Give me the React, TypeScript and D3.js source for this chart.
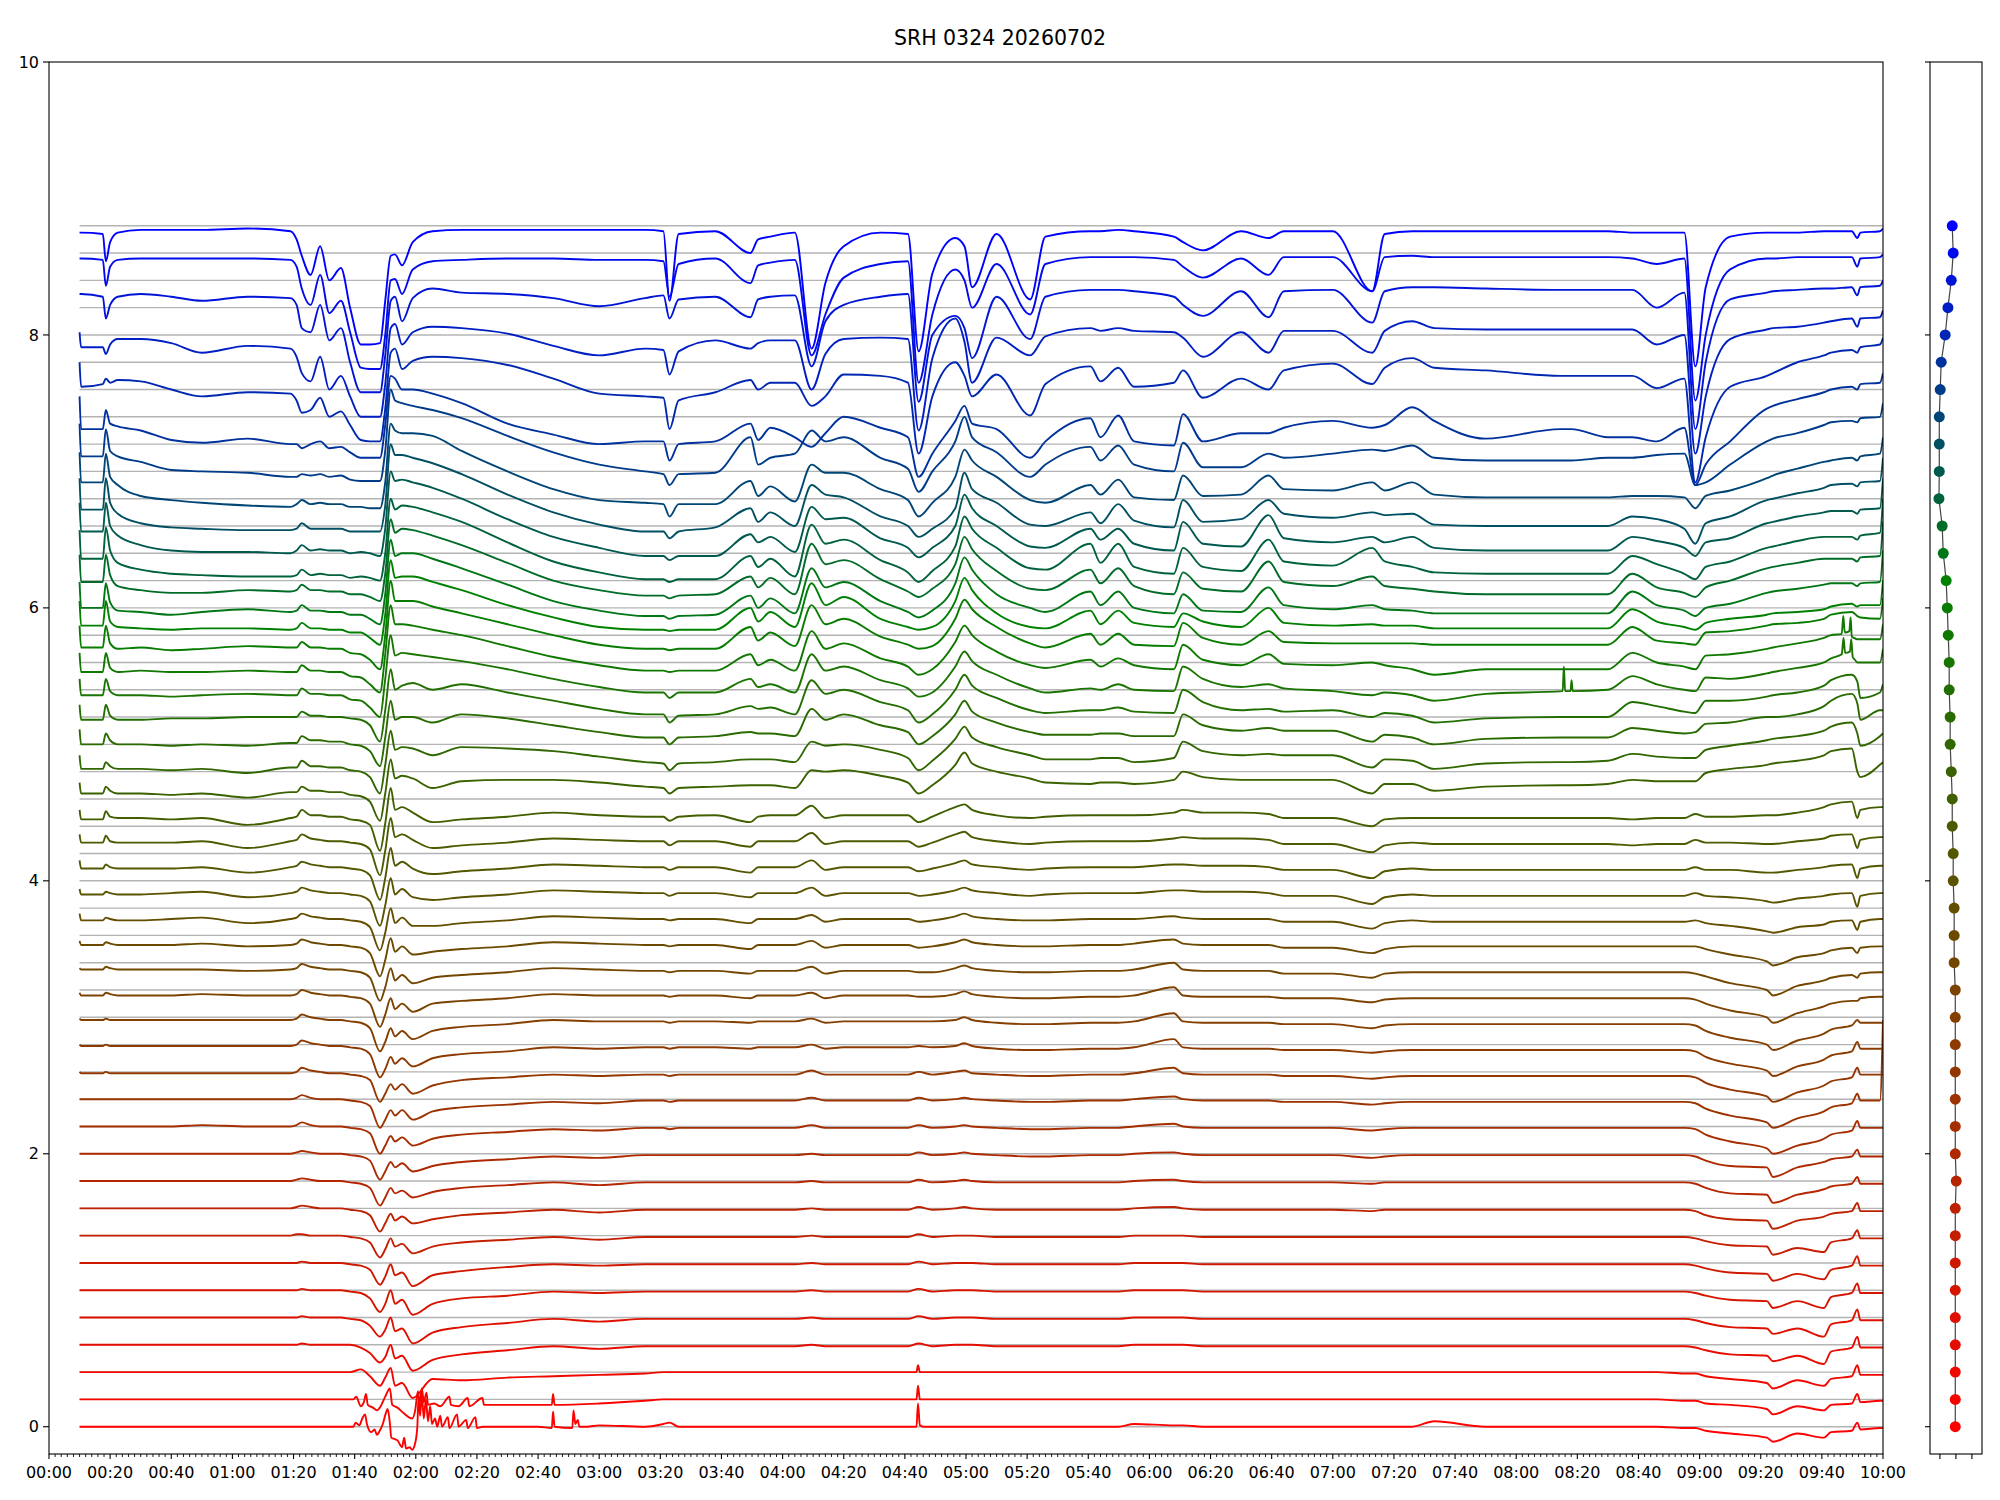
import * as d3 from 'd3'
import React from 'react'

// SRH 0324, 45 channels stacked 0.2 apart
const title = 'SRH 0324 20260702'
const spacing = 0.2

// minutes after 00:00
const times = [10, 10.5, 17.6, 18.6, 20, 22.5, 30, 40, 50, 65,
  79, 81, 82.7, 85.6, 88.7, 91.7, 95.5, 98.5, 102, 105,
  108.3, 110, 111.8, 113.2, 115.5, 119, 125.5, 135, 150, 165,
  180, 195, 201, 203, 206, 218, 229.5, 232, 236, 244,
  249.5, 254, 260, 272, 281, 284.5, 289, 296.5, 299.5, 302,
  310, 321, 326, 340.7, 344, 349.8, 355, 368, 371, 377.5,
  390, 399, 404, 420, 432.9, 437, 446, 453.2, 470, 494.5,
  496.5, 498, 510, 518, 526, 535, 538.6, 542, 550, 562,
  564, 572, 580.7, 583, 589.8, 591.6, 592.6, 599, 600]

// offset of each channel from its own baseline, in hundredths (channel 0 first)
const offsets = [
  [0,0,0,0,0,0,0,0,0,0, 0,0,0,0,0,0,0,0,8,3, -5,5,10,-8,-12,-18,15,3,0,1, 1,0,2,3,0,0,0,0,0,0, 0,0,0,0,0,17,0,0,0,0, 0,0,0,0,0,0,2,1,1,0, 0,0,0,0,0,0,0,4,0,0, 0,0,0,0,0,-1,-1,-3,-5,-8, -11,-5,-8,-4,-3,3,-2,-1,-1],
  [0,0,0,0,0,0,0,0,0,0, 0,0,0,0,0,0,0,0,5,0, -8,2,8,-5,-6,-13,8,-4,-4,-2, -3,-1,0,0,0,0,0,0,0,0, 0,0,0,0,0,10,0,0,0,0, 0,0,0,0,0,0,0,0,0,0, 0,0,0,0,0,0,0,0,0,0, 0,0,0,0,0,-1,-1,-3,-4,-7, -11,-5,-8,-4,-3,4,-2,-1,-1],
  [0,0,0,0,0,0,0,0,0,0, 0,0,0,0,0,0,0,0,2,-3, -10,-4,3,-10,-8,-19,-5,-6,-4,-3, -2,-1,0,0,0,0,0,0,0,0, 0,0,0,0,0,5,0,0,0,0, 0,0,0,0,0,0,0,0,0,0, 0,0,0,0,0,0,0,0,0,0, 0,0,0,0,0,-1,-1,-3,-5,-8, -12,-6,-10,-5,-3,5,-2,-2,-2],
  [0,0,0,0,0,0,0,0,0,0, 0,0,1,0,0,0,0,0,-2,-6, -13,-9,0,-10,-8,-19,-11,-7,-4,-1, -3,-1,-1,-1,-1,-1,-1,-1,-1,-1, 0,-1,-1,-1,-1,1,-1,0,0,0, -1,-1,-1,-1,-1,-1,0,0,0,-1, -1,-1,-1,-1,-1,-1,-1,-1,-1,-1, -1,-1,-1,-1,-1,-1,-2,-4,-7,-8, -12,-8,-14,-5,-2,6,-2,-2,-2],
  [0,0,0,0,0,0,0,0,0,0, 0,0,1,0,0,0,0,-1,-2,-6, -14,-9,0,-10,-8,-19,-11,-7,-4,-1, -3,-1,-1,-1,-1,-1,-1,-1,-1,-1, 0,-1,-1,-1,-1,1,-1,0,0,0, -1,-1,-1,-1,-1,-1,0,0,0,-1, -1,-1,-1,-1,-1,-1,-1,-1,-1,-1, -1,-1,-1,-1,-1,-1,-2,-4,-7,-8, -12,-8,-14,-5,-2,6,-2,-2,-2],
  [0,0,0,0,0,0,0,0,0,0, 0,0,1,0,0,0,0,-1,-2,-6, -16,-10,0,-10,-7,-18,-10,-6,-4,-1, -2,-1,-1,-1,-1,-1,-1,-1,-1,-1, 0,-1,-1,-1,-1,1,-1,0,0,0, -1,-1,-1,-1,-1,-1,0,0,0,-1, -1,-1,-1,-1,-1,-1,-1,-1,-1,-1, -1,-1,-1,-1,-1,-1,-2,-4,-7,-8, -13,-8,-13,-5,-2,5,-2,-2,-2],
  [0,0,0,0,0,0,0,0,0,0, 0,0,1,0,0,0,0,-1,-2,-5, -16,-10,-1,-9,-7,-17,-9,-6,-3,-1, -2,-1,-1,-1,-1,-1,-1,-1,-1,-1, 0,-1,-1,-1,-1,1,-1,0,0,0, -1,-1,-1,-1,-1,-1,0,0,0,-1, -1,-1,-1,-1,-1,-1,-1,-1,-1,-1, -1,-1,-1,-1,-1,-1,-2,-4,-7,-8, -13,-8,-12,-5,-2,5,-2,-2,-2],
  [0,0,0,0,0,0,0,0,0,0, 0,1,1,0,0,0,0,-1,-2,-5, -16,-10,-2,-8,-6,-13,-8,-5,-3,-1, -3,-1,-1,-1,-1,-1,-1,-1,-1,-1, 0,-1,-1,-1,-1,1,-1,0,0,0, -1,-1,-1,-1,-1,-1,0,0,0,-1, -1,-1,-1,-1,-1,-1,-1,-1,-1,-1, -1,-1,-1,-1,-1,-1,-2,-4,-7,-8, -14,-9,-12,-5,-2,4,-2,-2,-2],
  [0,0,0,0,0,0,0,0,0,0, 0,1,2,1,0,0,0,-1,-2,-5, -17,-11,-4,-9,-6,-11,-8,-5,-3,-1, -3,-1,-1,-1,-1,-1,-1,-1,-1,-1, 0,-1,-1,-1,-1,1,-1,0,1,0, -1,-1,-1,-1,-1,-1,0,1,0,-1, -1,-1,-1,-1,-2,-1,-1,-1,-1,-1, -1,-1,-1,-1,-1,-1,-2,-5,-8,-9, -15,-9,-6,-4,-2,4,-2,-2,-2],
  [0,0,0,0,0,0,0,0,0,0, 0,1,2,1,0,0,0,-1,-2,-5, -18,-12,-5,-9,-7,-12,-8,-5,-3,-1, -3,-1,-1,-1,-1,-1,-1,-1,-1,-1, 0,-1,-1,-1,-1,1,-1,0,1,0, -1,-1,-1,-1,-1,-1,0,1,0,-1, -1,-1,-1,-1,-2,-1,-1,-1,-1,-1, -1,-1,-1,-1,-1,-1,-2,-5,-9,-10, -16,-10,-6,-4,-2,3,-2,-2,-2],
  [0,0,0,0,0,0,0,0,0,0, 0,1,2,1,0,0,0,-1,-2,-5, -19,-13,-6,-10,-7,-13,-9,-6,-4,-2, -3,-1,-1,-1,-1,-1,-1,-1,-1,-1, 0,-1,-1,-1,-1,1,-1,0,1,0, -1,-2,-2,-1,-1,-1,0,1,0,-1, -1,-1,-1,-1,-3,-2,-1,-1,-1,-1, -1,-1,-1,-1,-1,-1,-2,-5,-9,-10, -17,-10,-6,-4,-2,3,-2,-2,-2],
  [0,0,0,0,0,0,0,0,1,0, 0,1,3,1,0,0,0,-1,-2,-5, -20,-14,-7,-11,-8,-14,-9,-6,-4,-2, -3,-1,-1,-2,-1,-1,-1,-1,-1,-1, 1,-1,-1,-1,-1,1,-1,0,1,0, -1,-2,-2,-1,-1,-1,0,2,0,-1, -1,-1,-1,-1,-3,-2,-1,-1,-1,-1, -1,-1,-1,-1,-1,-1,-2,-6,-11,-16, -20,-14,-9,-6,-3,4,-1,-1,-1],
  [0,0,0,0,0,0,0,0,0,0, 0,1,3,1,0,0,0,-1,-2,-5, -21,-15,-8,-12,-8,-15,-9,-6,-4,-2, -3,-1,-1,-2,-1,-1,-1,-1,-1,-1, 1,-1,-1,-1,-1,1,-1,0,1,0, -1,-2,-2,-1,-1,-1,0,2,0,-1, -1,-1,-2,-2,-4,-3,-2,-2,-2,-2, -2,-2,-2,-2,-2,-2,-3,-7,-12,-17, -21,-14,-9,-6,-3,4,-1,-1,58],
  [0,-1,-1,0,-1,-1,-1,-1,-1,-1, -1,0,3,1,0,-1,-1,-2,-3,-6, -22,-16,-9,-13,-9,-16,-10,-6,-4,-2, -3,-2,-2,-3,-2,-2,-2,-2,-2,-2, 1,-2,-2,-2,-2,0,-2,0,1,-1, -2,-3,-3,-2,-2,-2,-1,3,-1,-2, -2,-2,-3,-3,-5,-4,-3,-3,-3,-3, -3,-3,-3,-3,-3,-3,-4,-8,-13,-18, -22,-15,-10,-7,-4,3,-2,-2,-2],
  [0,-1,-1,0,-1,-1,-1,-1,-1,-1, -1,0,3,1,0,-1,-1,-2,-3,-7, -24,-18,-9,-14,-10,-16,-10,-7,-5,-2, -3,-2,-2,-3,-2,-2,-3,-2,-2,-2, 0,-3,-2,-2,-2,-1,-2,-1,1,-1, -3,-4,-4,-3,-3,-3,-2,4,-2,-3, -3,-3,-4,-4,-6,-5,-4,-4,-4,-4, -4,-4,-4,-4,-4,-4,-5,-9,-14,-19, -23,-16,-11,-8,-5,2,-3,-3,-3],
  [-1,-2,-2,-1,-2,-2,-2,-2,-2,-2, -2,-1,2,0,-1,-2,-2,-3,-4,-8, -25,-18,-8,-14,-10,-16,-10,-7,-5,-2, -3,-3,-3,-4,-3,-3,-4,-3,-3,-3, -1,-4,-3,-3,-3,-3,-3,-2,0,-2, -4,-5,-5,-4,-4,-4,-3,3,-3,-4, -4,-4,-5,-5,-8,-6,-5,-5,-5,-5, -5,-5,-5,-5,-5,-5,-6,-10,-15,-20, -24,-17,-12,-9,-6,-2,-4,-4,-4],
  [-2,-4,-4,-2,-3,-4,-4,-4,-3,-4, -4,-3,0,-2,-3,-4,-4,-5,-6,-10, -27,-18,-6,-14,-10,-16,-10,-8,-6,-3, -4,-4,-4,-5,-4,-4,-6,-4,-4,-4, -2,-6,-4,-4,-4,-5,-5,-3,-1,-3, -5,-6,-6,-5,-5,-5,-4,2,-4,-5, -5,-5,-6,-6,-9,-7,-6,-6,-6,-6, -6,-6,-6,-6,-6,-6,-7,-10,-15,-20, -24,-17,-12,-10,-8,-8,-6,-5,-5],
  [-4,-5,-5,-3,-4,-5,-5,-5,-5,-6, -5,-4,-1,-3,-4,-5,-5,-6,-7,-11, -28,-18,-4,-13,-9,-15,-11,-9,-7,-4, -5,-6,-6,-7,-6,-6,-8,-6,-6,-6, -3,-8,-6,-6,-6,-7,-7,-4,-2,-4, -6,-7,-7,-6,-6,-6,-5,0,-5,-6, -6,-6,-8,-8,-11,-8,-7,-7,-7,-7, -7,-7,-7,-7,-7,-7,-8,-10,-15,-20, -24,-17,-13,-11,-9,-11,-8,-7,-7],
  [-4,-7,-7,-5,-6,-7,-7,-7,-6,-8, -7,-6,-3,-5,-6,-7,-7,-8,-9,-13, -30,-18,-2,-12,-8,-14,-12,-10,-8,-5, -6,-7,-7,-8,-7,-7,-10,-7,-7,-7, -4,-9,-7,-7,-7,-9,-8,-5,-3,-5, -7,-8,-8,-7,-7,-7,-6,-3,-6,-7, -7,-7,-9,-9,-13,-10,-8,-8,-8,-8, -8,-8,-8,-8,-8,-8,-8,-10,-14,-19, -22,-16,-13,-11,-9,-13,-9,-8,-8],
  [-4,-9,-9,-7,-8,-9,-9,-8,-7,-11, -8,-7,-4,-6,-7,-8,-8,-9,-10,-14, -31,-18,0,-11,-7,-13,-13,-11,-9,-6, -7,-8,-8,-9,-8,-8,-11,-8,-8,-8, -5,-10,-8,-8,-8,-10,-9,-6,-4,-6, -8,-9,-9,-8,-8,-8,-8,-6,-7,-8, -8,-8,-10,-10,-15,-11,-9,-10,-10,-10, -10,-10,-10,-10,-10,-10,-9,-11,-13,-17, -18,-14,-12,-10,-9,-16,-10,-8,-8],
  [-6,-10,-10,-8,-9,-10,-10,-9,-8,-12, -9,-8,-5,-7,-8,-9,-9,-10,-11,-15, -33,-18,2,-10,-6,-12,-14,-12,-10,-7, -8,-9,-9,-11,-9,-9,-12,-9,-9,-9, -5,-11,-9,-9,-9,-11,-10,-7,-5,-7, -9,-11,-10,-9,-9,-9,-9,-7,-7,-8, -8,-9,-11,-11,-17,-12,-10,-11,-11,-11, -11,-11,-11,-11,-11,-11,-9,-11,-12,-15, -16,-13,-11,-10,-9,-19,-11,-9,-9],
  [-5,-11,-11,-8,-10,-11,-11,-11,-10,-14, -10,-9,-6,-8,-9,-10,-10,-11,-12,-16, -34,-18,4,-9,-6,-11,-15,-13,-11,-8, -9,-10,-10,-12,-10,-10,-14,-10,-10,-10, -5,-12,-10,-10,-10,-13,-11,-7,-5,-8, -10,-12,-11,-10,-10,-10,-10,-8,-8,-9, -9,-10,-12,-12,-18,-13,-11,-12,-12,-12, -12,-12,-12,-12,-12,-12,-10,-12,-12,-14, -14,-12,-10,-9,-8,-18,-11,-9,-9],
  [-6,-12,-12,-7,-11,-12,-12,-12,-11,-16, -11,-10,-6,-9,-10,-11,-11,-12,-13,-17, -36,-18,6,-8,-6,-10,-16,-14,-12,-9, -10,-11,-11,-14,-11,-11,-15,-11,-11,-11, -5,-13,-11,-11,-11,-15,-12,-6,-4,-8, -11,-13,-12,-11,-11,-11,-11,-9,-8,-9, -9,-10,-13,-13,-19,-14,-12,-13,-13,-13, -13,-13,-13,-14,-13,-13,-10,-12,-12,-13, -13,-11,-9,-7,-6,-16,-10,-8,-8],
  [-8,-15,-15,-9,-13,-14,-14,-15,-14,-19, -14,-13,-8,-12,-12,-13,-13,-15,-16,-19, -38,-18,8,-8,-6,-10,-17,-15,-13,-10, -12,-13,-13,-16,-13,-12,-17,-13,-12,-12, -5,-14,-12,-12,-12,-17,-13,-6,-4,-8, -12,-14,-13,-12,-12,-12,-12,-10,-8,-10, -10,-11,-14,-14,-20,-15,-14,-14,-14,-14, -14,-14,-14,-15,-14,-14,-11,-13,-13,-12, -12,-10,-6,-4,-2,-14,-8,-6,-6],
  [-8,-16,-16,-11,-14,-16,-16,-17,-16,-19, -15,-15,-11,-14,-14,-15,-15,-17,-18,-22, -36,-16,9,-5,-3,-5,-12,-7,-6,-6, -8,-11,-12,-16,-12,-11,-10,-10,-10,-12, 1,0,1,-3,-8,-16,-10,5,14,6, 0,-5,-8,-9,-8,-8,-9,-6,0,-4, -6,-6,-6,-6,-16,-9,-9,-14,-11,-10, -10,-10,-9,-6,-7,-7,-7,-1,2,5, 6,8,12,15,17,0,-4,5,7],
  [-8,-18,-18,-13,-16,-18,-18,-19,-18,-21, -17,-17,-12,-16,-16,-17,-17,-19,-20,-24, -36,-15,10,-4,-2,-3,-8,-2,-3,-5, -9,-13,-14,-19,-14,-13,-11,-11,-11,-13, 2,-1,0,-4,-10,-19,-12,4,13,5, -2,-8,-11,-11,-10,-10,-13,-10,2,-5, -8,-7,-8,-8,-17,-11,-12,-18,-14,-13, -13,-13,-12,-7,-9,-10,-10,-4,-1,3, 4,6,10,13,16,8,-1,6,8],
  [-9,-20,-20,-12,-17,-20,-20,-21,-20,-21, -19,-19,-14,-17,-17,-18,-18,-20,-21,-25, -36,-15,12,-2,0,0,-4,2,-1,-6, -11,-15,-15,-20,-15,-14,-11,-12,-12,-14, 6,-2,2,-6,-11,-20,-14,2,12,4, -4,-11,-13,-13,-12,-12,-14,-14,2,-6, -10,-8,-10,-10,-18,-13,-15,-20,-16,-15, -15,-15,-15,-8,-10,-12,-11,-5,-4,0, 0,2,8,12,17,10,-2,5,5],
  [-11,-22,-22,-11,-19,-22,-22,-21,-21,-20, -20,-20,-16,-19,-19,-20,-20,-21,-22,-26, -38,-15,15,0,3,5,0,4,-2,-8, -14,-18,-18,-24,-19,-18,-12,-14,-13,-18, 7,-3,0,-9,-15,-24,-18,0,11,3, -6,-15,-17,-15,-15,-13,-16,-17,0,-9, -15,-14,-16,-15,-20,-17,-19,-24,-21,-20, -20,-20,-20,-9,-12,-16,-17,-8,-8,-5, -4,-2,3,7,11,6,-6,-2,4],
  [-12,-24,-24,-12,-21,-24,-24,-25,-24,-23, -24,-24,-19,-23,-23,-24,-24,-27,-28,-33, -40,-12,20,5,7,6,4,1,-5,-12, -18,-22,-22,-26,-22,-22,-12,-18,-16,-22, 6,-6,-3,-13,-19,-25,-22,-3,8,1, -9,-19,-22,-19,-20,-16,-20,-21,-3,-12, -18,-16,-19,-21,-24,-22,-24,-28,-23,-21, -21,-21,-20,-10,-16,-20,-21,-11,-12,-8, -7,-4,0,3,6,0,0,0,10],
  [-13,-27,-27,-13,-24,-27,-26,-27,-27,-26, -27,-27,-22,-26,-26,-27,-27,-30,-31,-36, -42,-14,22,8,8,7,4,0,-8,-16, -22,-26,-26,-27,-26,-26,-14,-22,-18,-26, 3,-10,-6,-17,-23,-29,-25,-5,7,0, -12,-22,-24,-18,-23,-17,-22,-25,-7,-18, -22,-14,-21,-22,-20,-22,-25,-29,-25,-25, -25,-25,-25,-13,-20,-23,-25,-15,-14,-10, -9,-6,-2,0,1,-3,-3,-3,8],
  [-13,-29,-29,-13,-26,-30,-29,-31,-30,-28, -29,-29,-25,-29,-29,-30,-30,-33,-34,-38, -45,-20,20,5,5,5,1,-4,-12,-20, -27,-30,-30,-31,-30,-30,-14,-24,-18,-28, 2,-12,-8,-21,-27,-30,-28,-8,6,-1, -14,-26,-29,-19,-27,-19,-27,-28,-11,-22, -27,-17,-25,-26,-26,-26,-26,-27,-27,-27, -27,-27,-27,-14,-24,-26,-27,-18,-17,-13, -12,-11,-8,-5,-3,-6,-7,-8,7],
  [-15,-33,-33,-15,-30,-34,-35,-36,-35,-35, -36,-35,-31,-35,-35,-36,-36,-38,-38,-42, -47,-25,15,2,3,3,-1,-7,-18,-27, -34,-36,-36,-37,-36,-36,-20,-30,-23,-34, -2,-18,-12,-28,-34,-36,-34,-15,2,-7, -24,-34,-35,-22,-32,-22,-31,-34,-24,-30, -34,-20,-31,-33,-32,-33,-33,-35,-35,-35, -35,-35,-35,-21,-30,-34,-36,-31,-28,-25, -24,-23,-21,-19,-17,-19,-18,-18,0],
  [-21,-40,-40,-22,-36,-42,-43,-45,-43,-41, -43,-42,-38,-42,-42,-43,-43,-45,-45,-48, -52,-30,10,-2,0,0,-4,-11,-23,-35, -42,-46,-46,-48,-46,-45,-31,-40,-33,-44, -11,-25,-21,-35,-43,-47,-42,-22,-3,-12, -30,-40,-43,-28,-38,-28,-40,-44,-30,-42, -43,-25,-38,-41,-38,-41,-42,-44,-44,-44, -44,-44,-44,-28,-38,-42,-46,-40,-37,-29, -28,-26,-23,-22,-22,-24,-22,-21,2],
  [-21,-41,-41,-21,-36,-44,-47,-49,-49,-47, -48,-47,-43,-47,-47,-48,-48,-50,-50,-52, -55,-35,5,-5,-2,-3,-7,-14,-27,-40, -47,-51,-51,-53,-51,-50,-37,-45,-38,-50, -13,-28,-25,-39,-48,-52,-46,-28,-8,-17, -33,-46,-47,-32,-42,-31,-44,-50,-34,-46, -48,-26,-41,-44,-37,-44,-46,-48,-50,-50, -50,-50,-50,-35,-45,-49,-52,-45,-40,-31, -30,-27,-24,-24,-24,-26,-23,-22,3],
  [-23,-44,-44,-21,-38,-47,-52,-55,-56,-57, -57,-56,-52,-56,-55,-56,-56,-58,-57,-58, -60,-40,0,-8,-5,-6,-10,-17,-32,-46, -54,-59,-59,-61,-59,-59,-42,-50,-44,-57, -19,-33,-30,-45,-54,-61,-53,-35,-13,-22, -36,-51,-52,-33,-47,-33,-50,-55,-36,-50, -53,-30,-46,-49,-36,-46,-50,-54,-55,-55, -55,-55,-55,-42,-48,-55,-59,-50,-46,-36, -35,-31,-28,-28,-28,-30,-27,-25,0],
  [-23,-44,-44,-23,-40,-47,-54,-58,-59,-59, -60,-58,-54,-58,-57,-58,-58,-60,-59,-60, -62,-42,0,-7,-6,-8,-12,-20,-35,-48, -56,-62,-62,-65,-62,-62,-46,-52,-48,-59, -26,-35,-34,-49,-56,-63,-56,-40,-17,-27, -40,-55,-56,-42,-50,-42,-53,-58,-37,-53, -55,-32,-49,-52,-48,-52,-48,-56,-58,-58, -58,-58,-58,-48,-51,-56,-62,-52,-49,-38, -37,-33,-30,-29,-29,-31,-28,-27,-5],
  [-25,-48,-48,-25,-43,-51,-58,-61,-62,-63, -63,-62,-58,-62,-62,-62,-62,-64,-64,-64, -64,-45,0,-8,-8,-10,-14,-22,-37,-50, -59,-64,-64,-69,-64,-61,-47,-57,-50,-60, -30,-37,-39,-53,-60,-68,-62,-47,-21,-33, -43,-59,-60,-50,-58,-44,-56,-61,-41,-57, -55,-41,-51,-54,-50,-52,-51,-59,-60,-60, -60,-60,-60,-53,-55,-62,-73,-58,-53,-41, -40,-36,-32,-30,-29,-31,-28,-27,-10],
  [-26,-48,-48,-27,-44,-50,-58,-61,-63,-65, -66,-64,-61,-64,-63,-64,-64,-66,-66,-67, -67,-48,-5,-10,-12,-12,-14,-25,-40,-53, -61,-63,-64,-73,-64,-64,-47,-58,-51,-62, -35,-41,-41,-53,-61,-73,-63,-44,-24,-32, -44,-61,-63,-50,-57,-46,-59,-61,-43,-58, -57,-43,-53,-54,-48,-54,-48,-57,-59,-59, -59,-59,-59,-58,-58,-59,-67,-58,-54,-45, -43,-38,-33,-32,-30,-32,-29,-27,-15],
  [-25,-49,-49,-29,-45,-49,-53,-59,-60,-61, -64,-64,-62,-63,-62,-64,-63,-66,-67,-67, -67,-45,0,-8,-10,-12,-15,-21,-34,-46, -55,-60,-62,-70,-62,-61,-35,-55,-50,-47, -30,-38,-35,-50,-58,-75,-60,-38,-20,-35, -46,-64,-55,-42,-52,-41,-55,-60,-39,-57, -57,-47,-50,-47,-44,-45,-41,-50,-52,-52, -52,-52,-50,-50,-48,-47,-70,-68,-55,-38, -36,-32,-26,-24,-23,-24,-21,-20,-10],
  [-25,-49,-49,-35,-45,-47,-50,-57,-59,-56, -60,-60,-63,-60,-58,-63,-62,-66,-70,-70, -70,-46,-10,-12,-20,-20,-23,-30,-45,-53, -60,-58,-58,-72,-60,-58,-45,-57,-48,-55, -62,-52,-40,-48,-55,-84,-67,-43,-32,-45, -49,-70,-58,-41,-55,-39,-58,-61,-38,-58, -52,-52,-48,-43,-48,-46,-33,-43,-56,-49, -49,-49,-55,-55,-58,-48,-90,-75,-58,-34, -32,-27,-22,-20,-18,-20,-16,-15,-8],
  [-20,-38,-36,-32,-35,-33,-34,-40,-45,-42, -43,-48,-57,-55,-46,-60,-56,-66,-77,-78, -78,-54,-13,-10,-25,-19,-16,-17,-22,-32, -43,-45,-46,-69,-48,-42,-33,-40,-35,-35, -52,-45,-29,-30,-35,-87,-45,-20,-30,-45, -29,-59,-36,-23,-34,-24,-38,-35,-26,-46, -32,-40,-26,-21,-36,-24,-17,-24,-26,-30, -30,-30,-30,-30,-39,-32,-108,-75,-38,-30, -28,-20,-15,-13,-11,-13,-9,-7,-2],
  [-18,-29,-29,-34,-27,-23,-23,-26,-33,-28, -30,-36,-48,-54,-36,-60,-50,-65,-80,-80, -80,-56,-15,-12,-27,-18,-14,-15,-19,-28, -35,-30,-31,-49,-32,-24,-30,-26,-24,-24, -60,-34,-23,-22,-23,-90,-37,-8,-25,-55, -22,-35,-21,-15,-17,-15,-17,-18,-22,-36, -18,-33,-17,-17,-33,-17,-10,-15,-16,-16, -16,-16,-16,-16,-27,-20,-107,-65,-23,-16, -15,-14,-11,-10,-8,-14,-8,-7,-2],
  [-10,-10,-12,-28,-18,-12,-10,-12,-15,-12, -13,-18,-35,-38,-18,-44,-35,-60,-82,-82, -82,-55,-15,-12,-30,-13,-6,-9,-10,-13, -19,-13,-11,-28,-14,-12,-27,-14,-12,-11, -63,-30,-18,-12,-10,-89,-40,-26,-35,-57, -12,-43,-12,-7,-7,-7,-8,-12,-18,-26, -8,-27,-8,-7,-31,-8,-5,-5,-6,-7, -7,-7,-7,-7,-20,-9,-109,-60,-14,-9, -8,-7,-6,-6,-5,-11,-5,-4,0],
  [-4,-4,-5,-24,-10,-5,-4,-4,-4,-4, -5,-10,-26,-38,-16,-44,-35,-58,-84,-85, -85,-60,-20,-19,-30,-12,-6,-5,-4,-4, -5,-5,-6,-32,-8,-4,-22,-9,-7,-5, -75,-45,-18,-8,-6,-95,-45,-12,-20,-40, -8,-45,-8,-3,-3,-3,-3,-5,-10,-18, -4,-16,-3,-3,-28,-3,-2,-3,-3,-3, -3,-3,-3,-4,-8,-4,-108,-60,-12,-4, -4,-3,-3,-3,-3,-10,-4,-3,-1],
  [-5,-5,-6,-26,-12,-5,-3,-3,-3,-2, -4,-10,-22,-36,-15,-40,-31,-60,-87,-87, -86,-55,-22,-21,-29,-12,-4,-3,-3,-3, -3,-3,-4,-55,-6,-4,-20,-10,-8,-5, -90,-42,-15,-5,-6,-92,-35,-9,-15,-45, -6,-54,-8,-4,-4,-3,-4,-8,-12,-18, -4,-9,-4,-4,-48,-6,-4,-4,-4,-4, -4,-4,-4,-5,-5,-5,-103,-45,-8,-5, -5,-5,-4,-4,-4,-9,-5,-4,-2],
]

// finer knots where a trace is spiky: [channel, from, to, [minute, hundredths][]]
// these replace the grid points of that channel inside [from, to]
const detailWindows: [number, number, number, number[][]][] = [
  [0, 99, 143, [[99.6, 0], [100.3, 3], [101.5, 1], [102.5, 6], [103.4, 9], [104, 2], [105.4, -4], [106.5, -2], [107.3, -6],
    [108.2, -3], [109.2, 2], [110.2, 10], [110.8, 13], [111.5, 3], [112, -8], [113, -9], [114, -10], [115.5, -15],
    [116.2, -8], [116.8, -16], [118, -15], [118.8, -17], [119.8, -12], [120.5, 0], [120.9, 22], [121.4, 8], [122, 24],
    [122.6, 6], [123.3, 20], [124, 4], [124.7, 15], [125.3, 2], [126.3, 6], [127, 0], [128, 8], [128.6, 0], [130.5, 7],
    [131, -1], [133.5, 9], [134, 0], [136.5, 5], [137, -1], [139.5, 7], [140, -1], [142, 0]]],
  [0, 160, 176, [[160, 0], [164.5, -1], [164.9, 11], [165.4, 0], [171.2, -1], [171.6, 12], [172.2, 2], [173, 5], [173.5, 0], [176, 0]]],
  [0, 280, 288, [[283.8, 0], [284.3, 17], [284.9, 1], [286, 0]]],
  [1, 99, 143, [[99.6, 0], [100.5, 2], [102, -5], [103, -2], [103.7, 4], [104.3, -4], [106, -6], [107.3, -8], [108.5, -5],
    [110, 2], [111.5, 8], [112.3, -4], [114, -6], [116, -10], [118.8, -14], [119.8, -8], [120.7, 6], [121.2, -3], [122, 8],
    [122.6, -2], [123.5, 5], [124, -4], [126, -3], [128, -5], [131, 2], [131.5, -4], [134, -5], [137, 1], [137.5, -5],
    [141.8, 1], [142.3, -4]]],
  [1, 160, 170, [[164.5, -4], [164.9, 4], [165.4, -4]]],
  [1, 280, 288, [[283.8, 0], [284.3, 10], [284.9, 0]]],
  [2, 280, 288, [[283.8, 0], [284.3, 5], [284.9, 0]]],
  [28, 494, 499, [[495.2, -21], [495.6, -3], [496, -21], [497.8, -21], [498.1, -13], [498.5, -21]]],
  [28, 585.5, 591, [[586.5, 6], [587.1, 18], [587.6, 7], [589.2, 8], [589.6, 17], [590.1, 4], [590.8, 2]]],
  [29, 585.5, 591, [[586.5, 1], [587, 14], [587.5, 2], [589, 3], [589.4, 13], [589.8, -1], [590.5, -2]]],
]

// side panel: one marker per channel (channel 0 first)
const panelX = [-0.04, -0.04, -0.04, -0.04, -0.04, -0.04, -0.04, -0.04, -0.04, 0.02,
  -0.04, -0.04, -0.04, -0.04, -0.04, -0.04, -0.04, -0.11, -0.11, -0.11,
  -0.17, -0.17, -0.23, -0.23, -0.29, -0.36, -0.36, -0.42, -0.42, -0.48,
  -0.54, -0.61, -0.79, -0.86, -1.06, -1.04, -1.04, -1.04, -0.98, -0.92,
  -0.67, -0.5, -0.29, -0.17, -0.23]

const yTicks = [0, 2, 4, 6, 8, 10]
const xMajor = d3.range(0, 601, 20)
const xMinor = d3.range(0, 601, 2).filter(m => m % 20 !== 0)
const sideTicks = [-1, 0, 1]

const W = 2000, H = 1500
const m = { left: 49, right: 1883, top: 62, bottom: 1454 }
const side = { left: 1930, right: 1982 }
const font = "'DejaVu Sans', sans-serif"

const fmt = (min: number) => `${String(Math.floor(min / 60)).padStart(2, '0')}:${String(min % 60).padStart(2, '0')}`

// grid points of one channel plus its detail knots, sorted by time
function channelPoints(i: number) {
    const wins = detailWindows.filter(w => w[0] === i)
    const pts = times
        .map((t, k) => [t, offsets[i][k]])
        .filter(([t]) => !wins.some(w => t >= w[1] && t <= w[2]))
    wins.forEach(w => pts.push(...w[3]))
    return pts.sort((a, b) => a[0] - b[0])
}

export default function App() {
    const x = d3.scaleLinear().domain([0, 600]).range([m.left, m.right])
    const y = d3.scaleLinear().domain([-0.2, 10]).range([m.bottom, m.top])
    const sx = d3.scaleLinear().domain([-1.62, 1.63]).range([side.left, side.right])
    const color = d3.scaleLinear<string>().domain([0, 31, 44]).range(['#ff0000', '#008000', '#0000ff'])

    const paths = offsets.map((_, i) => {
        const base = i * spacing
        const line = d3.line<number[]>()
            .x(p => x(p[0]))
            .y(p => y(base + p[1] / 100))
            .curve(d3.curveMonotoneX)
        return line(channelPoints(i)) || ''
    })
    const panelLine = d3.line<number>()
        .x(v => sx(v))
        .y((_, i) => y(i * spacing))(panelX) || ''

    return (
        <svg width={W} height={H} style={{ position: 'absolute', left: 0, top: 0, background: '#fff' }}
            fontFamily={font}>
            <defs>
                <clipPath id="plot">
                    <rect x={m.left} y={m.top} width={m.right - m.left} height={m.bottom - m.top} />
                </clipPath>
            </defs>
            <text x={1000} y={45} fontSize={20.5} textAnchor="middle">{title}</text>

            <g clipPath="url(#plot)">
                {offsets.map((_, i) => (
                    <line key={'g' + i} x1={x(times[0])} x2={x(600)} y1={y(i * spacing)} y2={y(i * spacing)}
                        stroke="#b4b4b4" strokeWidth={1.4} />
                ))}
                {paths.map((d, i) => (
                    <path key={'p' + i} d={d} fill="none" stroke={color(i)} strokeWidth={1.9}
                        strokeLinejoin="round" />
                ))}
            </g>
            <rect x={m.left} y={m.top} width={m.right - m.left} height={m.bottom - m.top}
                fill="none" stroke="#000" strokeWidth={1.1} />

            {yTicks.map(t => (
                <g key={'y' + t}>
                    <line x1={m.left - 6} x2={m.left} y1={y(t)} y2={y(t)} stroke="#000" strokeWidth={1.1} />
                    <text x={m.left - 10} y={y(t)} dy="0.35em" fontSize={16} textAnchor="end">{t}</text>
                </g>
            ))}
            {xMajor.map(t => (
                <g key={'x' + t}>
                    <line x1={x(t)} x2={x(t)} y1={m.bottom} y2={m.bottom + 5} stroke="#000" strokeWidth={1.1} />
                    <text x={x(t)} y={m.bottom + 24} fontSize={16} textAnchor="middle">{fmt(t)}</text>
                </g>
            ))}
            {xMinor.map(t => (
                <line key={'n' + t} x1={x(t)} x2={x(t)} y1={m.bottom} y2={m.bottom + 3} stroke="#000" strokeWidth={0.9} />
            ))}

            {/* side panel */}
            <path d={panelLine} fill="none" stroke="#444" strokeWidth={1.2} />
            {panelX.map((v, i) => (
                <circle key={'c' + i} cx={sx(v)} cy={y(i * spacing)} r={5.5} fill={color(i)} />
            ))}
            <rect x={side.left} y={m.top} width={side.right - side.left} height={m.bottom - m.top}
                fill="none" stroke="#000" strokeWidth={1.1} />
            {yTicks.map(t => (
                <line key={'sy' + t} x1={side.left - 5} x2={side.left} y1={y(t)} y2={y(t)} stroke="#000" strokeWidth={1.1} />
            ))}
            {sideTicks.map(t => (
                <line key={'sx' + t} x1={sx(t)} x2={sx(t)} y1={m.bottom} y2={m.bottom + 5} stroke="#000" strokeWidth={1.1} />
            ))}
        </svg>
    )
}
